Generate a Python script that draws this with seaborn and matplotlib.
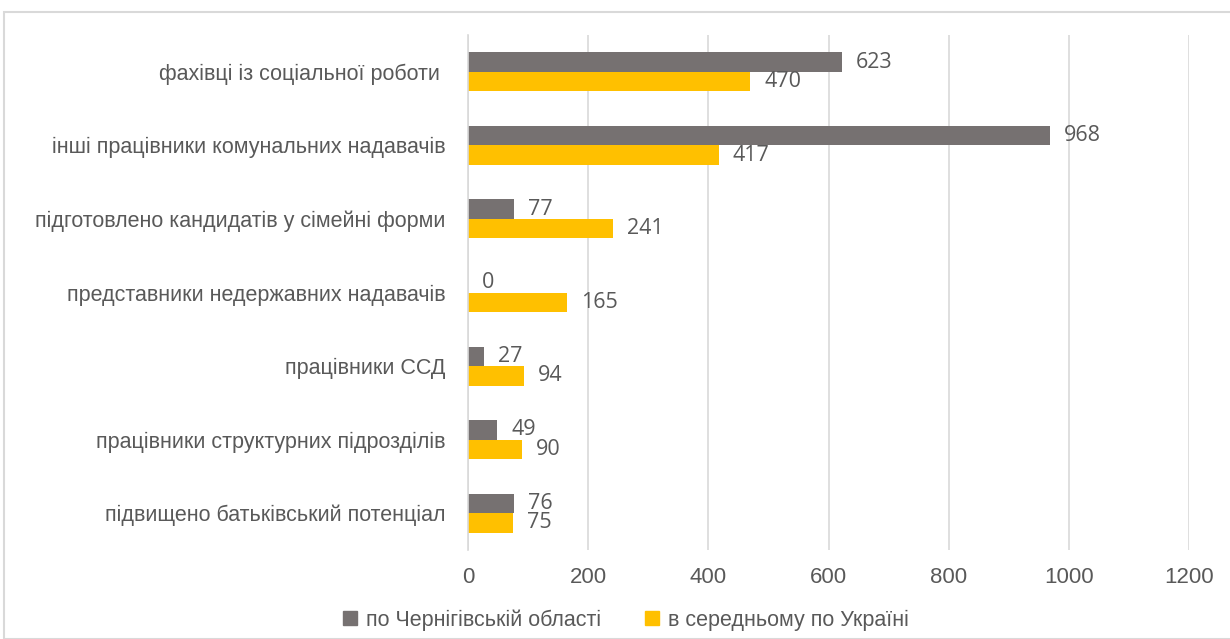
import matplotlib
matplotlib.use("Agg")
import matplotlib.pyplot as plt
import seaborn as sns
import pandas as pd
from matplotlib.patches import Rectangle, Patch

categories = [
    "фахівці із соціальної роботи ",
    "інші працівники комунальних надавачів",
    "підготовлено кандидатів у сімейні форми",
    "представники недержавних надавачів",
    "працівники ССД",
    "працівники структурних підрозділів",
    "підвищено батьківський потенціал",
]
series_names = ["по Чернігівській області", "в середньому по Україні"]
chernihiv = [623, 968, 77, 0, 27, 49, 76]
ukraine = [470, 417, 241, 165, 94, 90, 75]
xticks = [0, 200, 400, 600, 800, 1000, 1200]
colors = ["#767171", "#FFC000"]

df = pd.DataFrame({
    "cat": categories * 2,
    "series": [series_names[0]] * len(categories) + [series_names[1]] * len(categories),
    "value": chernihiv + ukraine,
})

sns.set_style("white")
plt.rcParams["font.family"] = ["Liberation Sans", "DejaVu Sans"]

fig = plt.figure(figsize=(12.3, 6.39), dpi=100)
ax = fig.add_axes([468 / 1230, 1 - 550 / 639, (1189 - 468) / 1230, (550 - 35) / 639])

sns.barplot(data=df, y="cat", x="value", hue="series", order=categories,
            hue_order=series_names, palette=colors, orient="h", width=0.53,
            gap=0, ax=ax, legend=False, saturation=1, linewidth=0)

ax.set_xlim(0, 1200)
ax.set_ylim(len(categories) - 0.5, -0.5)
ax.set_xticks(xticks)
ax.set_xticklabels([str(t) for t in xticks], fontsize=16, color="#595959")
ax.tick_params(axis="x", length=0, pad=12)
ax.tick_params(axis="y", length=0, pad=16)
for lbl in ax.get_yticklabels():
    lbl.set_fontsize(15.5)
    lbl.set_color("#595959")
ax.set_xlabel("")
ax.set_ylabel("")
ax.grid(axis="x", color="#D9D9D9", linewidth=1.2)
ax.set_axisbelow(True)
for s in ["top", "right", "bottom"]:
    ax.spines[s].set_visible(False)
ax.spines["left"].set_color("#D9D9D9")
ax.spines["left"].set_linewidth(1.2)

for cont in ax.containers:
    ax.bar_label(cont, padding=10, fontsize=15.5, color="#595959",
                 family=["Open Sans", "DejaVu Sans"])

handles = [Patch(facecolor=c, edgecolor=c) for c in colors]
fig.legend(handles, series_names, loc="center", bbox_to_anchor=(626 / 1230, 1 - 620 / 639),
           ncol=2, frameon=False, handlelength=0.65, handleheight=0.65,
           columnspacing=2.0, handletextpad=0.45, labelcolor="#595959",
           prop={"family": ["Liberation Sans", "DejaVu Sans"], "size": 15.5})

fig.add_artist(Rectangle((4 / 1230, 0), 1.0, 1 - 12 / 639, transform=fig.transFigure,
                         fill=False, edgecolor="#D9D9D9", linewidth=1.5))

fig.savefig("out.png", dpi=100)
